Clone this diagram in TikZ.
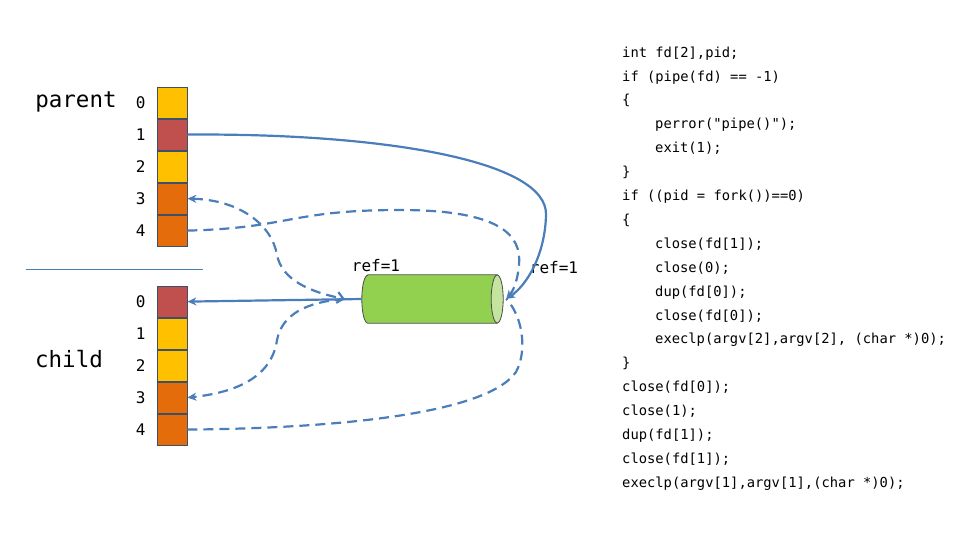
\documentclass[tikz,border=0pt]{standalone}
\usepackage{fontspec}
\setmonofont{DejaVu Sans Mono}
\usepackage{tikz}
\usetikzlibrary{arrows.meta,positioning}
\definecolor{fdyellow}{RGB}{255,192,0}
\definecolor{fdred}{RGB}{192,80,77}
\definecolor{fdorange}{RGB}{228,108,10}
\definecolor{linkblue}{RGB}{74,126,187}
\definecolor{pipegreen}{RGB}{146,208,80}
\definecolor{pipeend}{RGB}{196,228,160}
\definecolor{cellborder}{RGB}{60,80,105}
\newcommand{\codeindent}{\hspace*{33pt}}

\begin{document}
\begin{tikzpicture}[
    x=1pt, y=-1pt,
    cell/.style={rectangle, draw=cellborder, line width=0.8pt, minimum width=30pt, minimum height=31.2pt, inner sep=0pt},
    free/.style={cell, fill=fdyellow},
    used/.style={cell, fill=fdred},
    pipefd/.style={cell, fill=fdorange},
    idx/.style={inner sep=0pt, font=\ttfamily\fontsize{16}{16}\selectfont},
    who/.style={inner sep=0pt, font=\ttfamily\fontsize{22.5}{22.5}\selectfont},
    reflabel/.style={inner sep=0pt, font=\ttfamily\fontsize{16}{16}\selectfont},
    pipebox/.style={rectangle, minimum width=141pt, minimum height=48pt, inner sep=0pt},
    pipeline/.style={draw=black!70, line width=0.8pt},
    link/.style={linkblue, line width=2.2pt, -{Stealth[length=9pt,width=8pt]}},
    closed/.style={link, dash pattern=on 10pt off 6pt},
    code/.style={inner sep=0pt, align=left, font=\ttfamily\fontsize{13.8}{23.9}\selectfont}
]
    \useasboundingbox (0,0) rectangle (960,555);

    % parent table
    \node[free] (p0) at (172,102.6) {};
    \node[used, below=0pt of p0] (p1) {};
    \node[free, below=0pt of p1] (p2) {};
    \node[pipefd, below=0pt of p2] (p3) {};
    \node[pipefd, below=0pt of p3] (p4) {};
    \node[who] (parent) at (76,102) {parent};

    % child table
    \node[used] (c0) at (172,301.6) {};
    \node[free, below=0pt of c0] (c1) {};
    \node[free, below=0pt of c1] (c2) {};
    \node[pipefd, below=0pt of c2] (c3) {};
    \node[pipefd, below=0pt of c3] (c4) {};
    \node[who] (child) at (69,359) {child};

    % fd numbers
    \node[idx, left=11pt of p0] {0};
    \node[idx, left=11pt of p1] {1};
    \node[idx, left=11pt of p2] {2};
    \node[idx, left=11pt of p3] {3};
    \node[idx, left=11pt of p4] {4};
    \node[idx, left=11pt of c0] {0};
    \node[idx, left=11pt of c1] {1};
    \node[idx, left=11pt of c2] {2};
    \node[idx, left=11pt of c3] {3};
    \node[idx, left=11pt of c4] {4};

    \draw[linkblue, line width=1pt] (26,269) -- (203,269);

    % the pipe
    \node[pipebox] (pipe) at (432.5,299) {};
    \path[pipeline, fill=pipegreen] ([xshift=6pt]pipe.north west) -- ([xshift=-6pt]pipe.north east)
        -- ([xshift=-6pt]pipe.south east) -- ([xshift=6pt]pipe.south west)
        arc[start angle=270, end angle=90, x radius=6pt, y radius=24pt] -- cycle;
    \path[pipeline, fill=pipeend] ([xshift=-6pt]pipe.east) ellipse [x radius=6pt, y radius=24pt];
    \node[reflabel] (refr) at (376,266) {ref=1};
    \node[reflabel] (refw) at (554,268) {ref=1};
    \coordinate (tipL) at ([xshift=-17pt]pipe.west);

    % connectors
    \draw[link] (p1.east) .. controls (380,133) and (548,160) .. (546,215)
        .. controls (545,255) and (527,285) .. ([xshift=3pt]pipe.east);
    \draw[link] (pipe.west) -- (c0.east);
    \draw[closed, {Stealth[length=9pt,width=8pt]}-{Straight Barb[length=6pt,width=11pt]}]
        (p3.east) .. controls (240,200) and (272,225) .. (277,255)
        .. controls (282,280) and (310,292) .. (tipL);
    \draw[closed] (p4.east) .. controls (290,228) and (290,210) .. (400,210)
        .. controls (500,210) and (522,235) .. (519,265)
        .. controls (517,285) and (512,292) .. ([xshift=3pt]pipe.east);
    \draw[closed] (tipL) .. controls (305,302) and (282,315) .. (277,340)
        .. controls (272,375) and (240,392) .. (c3.east);
    \draw[closed, -] (c4.east) .. controls (360,428) and (490,410) .. (516,372)
        .. controls (528,350) and (522,315) .. ([xshift=3pt]pipe.east);

    % source code
    \node[code, anchor=north west] (src) at (622,46.5) {%
        int fd[2],pid;\\
        if (pipe(fd) == -1)\\
        \{\\
        \codeindent perror("pipe()");\\
        \codeindent exit(1);\\
        \}\\
        if ((pid = fork())==0)\\
        \{\\
        \codeindent close(fd[1]);\\
        \codeindent close(0);\\
        \codeindent dup(fd[0]);\\
        \codeindent close(fd[0]);\\
        \codeindent execlp(argv[2],argv[2], (char *)0);\\
        \}\\
        close(fd[0]);\\
        close(1);\\
        dup(fd[1]);\\
        close(fd[1]);\\
        execlp(argv[1],argv[1],(char *)0);};
\end{tikzpicture}
\end{document}
